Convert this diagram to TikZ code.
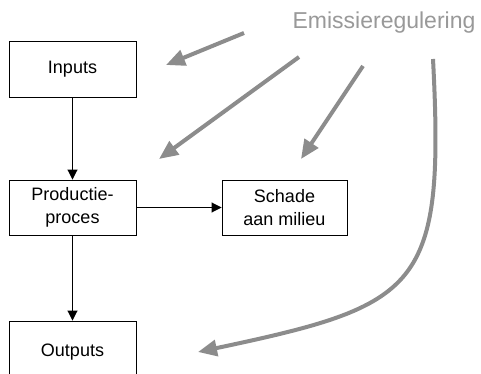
\documentclass[tikz,border=0pt]{standalone}
\usepackage{fontspec}
\setmainfont{Liberation Sans}
\usetikzlibrary{arrows.meta}
\definecolor{regul}{HTML}{8C8C8C}
\definecolor{regtext}{HTML}{999999}
\tikzset{
  box/.style={draw=black, line width=0.9pt, minimum width=127pt, minimum height=56pt,
    inner sep=0pt, align=center, font=\fontsize{18pt}{23pt}\selectfont},
  flow/.style={draw=black, line width=0.9pt, -{Triangle[length=10pt,width=10pt]}},
  reg/.style={draw=regul, line width=4pt, -{Triangle[length=19pt,width=16pt]}},
}
\begin{document}
\begin{tikzpicture}[x=1pt,y=-1pt]
\useasboundingbox (0,0) rectangle (481,374);
\clip (0,0) rectangle (481,374);
\fill[white] (0,0) rectangle (481,374);
\node[box] (inputs) at (72.5,69.5) {Inputs};
\node[box, minimum height=55pt] (proces) at (72.5,207.5) {Productie-\\proces};
\node[box, minimum width=125pt, minimum height=55pt] (schade) at (284.5,207.5) {Schade\\aan milieu};
\node[box, minimum height=62pt] (outputs) at (72.5,352) {Outputs};
\node[anchor=base, text=regtext, font=\fontsize{23pt}{28pt}\selectfont, inner sep=0pt] (emis) at (384,28.3) {Emissieregulering};
\draw[flow] (inputs) -- (proces);
\draw[flow] (proces) -- (schade);
\draw[flow] (proces) -- (outputs);
\coordinate (s1) at (244,33);  \coordinate (e1) at (166,65);
\coordinate (s2) at (299,57);  \coordinate (e2) at (159,159);
\coordinate (s3) at (363,66);  \coordinate (e3) at (301,159);
\coordinate (s4) at (433,59);  \coordinate (e4) at (198,352);
\draw[reg] (s1) -- (e1);
\draw[reg] (s2) -- (e2);
\draw[reg] (s3) -- (e3);
\draw[reg] (s4) .. controls (445,290) and (420,305) .. (e4);
\end{tikzpicture}
\end{document}
